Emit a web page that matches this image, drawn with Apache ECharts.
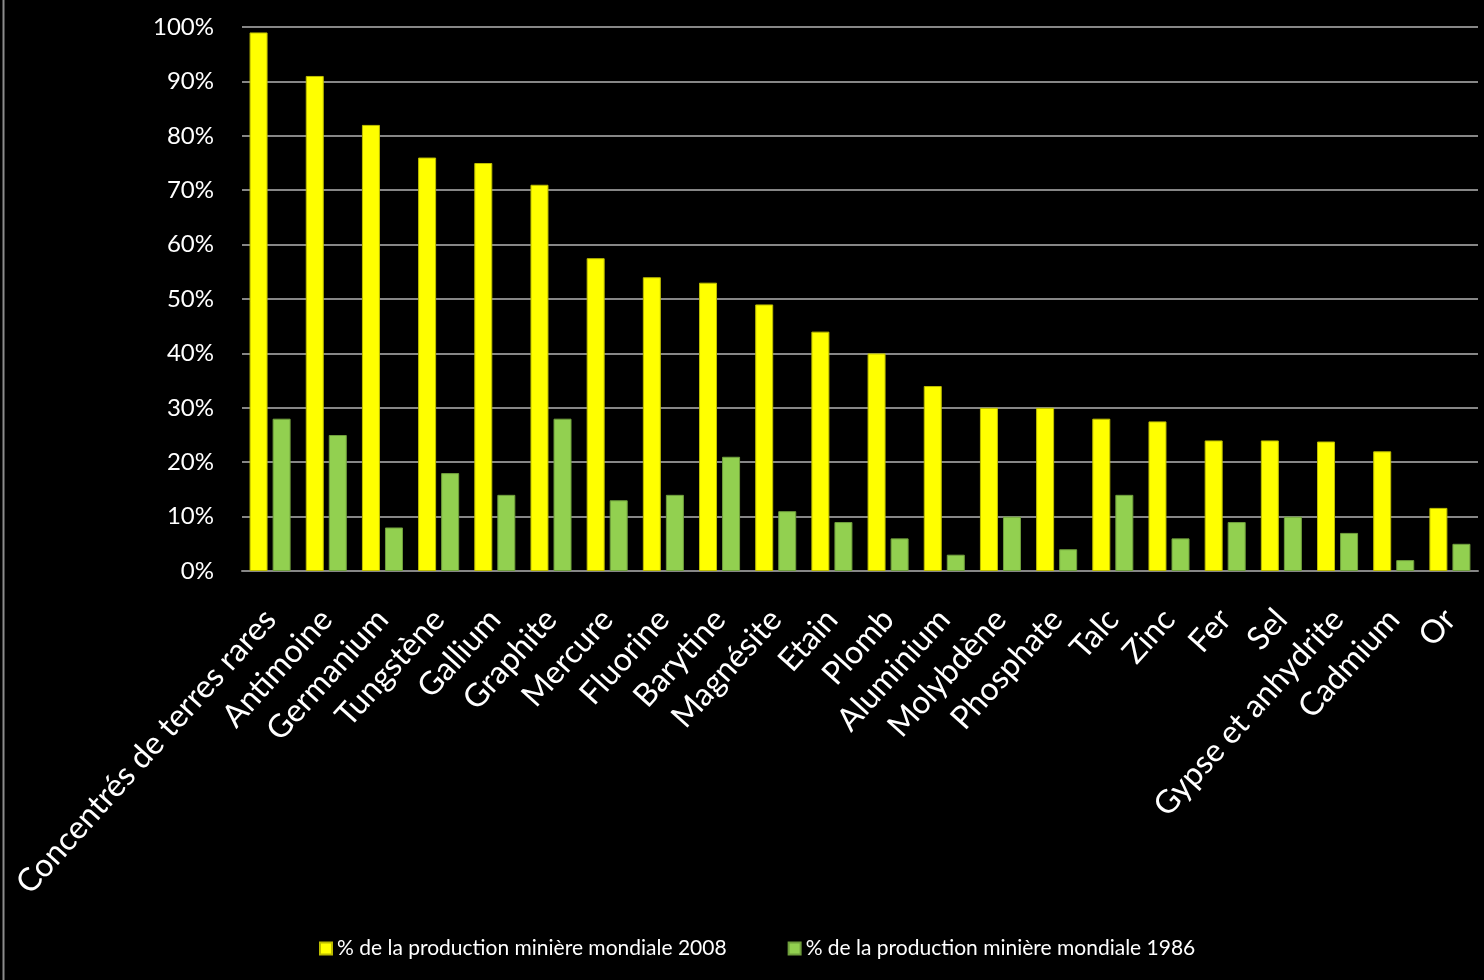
<!DOCTYPE html>
<html>
<head>
<meta charset="utf-8">
<script src="https://cdn.jsdelivr.net/npm/echarts@6/dist/echarts.min.js"></script>
<style>
html,body{margin:0;padding:0;background:#000;}
#chart{width:1484px;height:980px;}
</style>
</head>
<body>
<div id="chart"></div>
<script>
const categories = ["Concentrés de terres rares","Antimoine","Germanium","Tungstène","Gallium","Graphite","Mercure","Fluorine","Barytine","Magnésite","Etain","Plomb","Aluminium","Molybdène","Phosphate","Talc","Zinc","Fer","Sel","Gypse et anhydrite","Cadmium","Or"];
const prod2008 = [99,91,82,76,75,71,57.5,54,53,49,44,40,34,30,30,28,27.5,24,24,23.8,22,11.6];
const prod1986 = [28,25,8,18,14,28,13,14,21,11,9,6,3,10,4,14,6,9,10,7,2,5];
const seriesNames = ["% de la production minière mondiale 2008","% de la production minière mondiale 1986"];

const FONT = 'Lato';
const chart = echarts.init(document.getElementById('chart'));
chart.setOption({
  backgroundColor: '#000',
  animation: false,
  textStyle: {fontFamily: FONT},
  graphic: [{
    type: 'line', shape: {x1: 3.5, y1: 0, x2: 3.5, y2: 980},
    style: {stroke: '#8c8c8c', lineWidth: 2}
  }],
  grid: {left: 242, right: 6, top: 27, bottom: 409, containLabel: false, outerBoundsMode: 'none'},
  legend: {
    top: 933, left: 314,
    itemWidth: 12, itemHeight: 12, itemGap: 61,
    icon: 'rect',
    textStyle: {color: '#fff', fontSize: 21, fontFamily: FONT},
    data: seriesNames
  },
  xAxis: {
    type: 'category', data: categories,
    axisLine: {lineStyle: {color: '#868686', width: 2}},
    axisTick: {show: false},
    axisLabel: {interval: 0, rotate: 48, color: '#fff', fontSize: 32, margin: 43, fontFamily: FONT}
  },
  yAxis: {
    type: 'value', min: 0, max: 100, interval: 10,
    axisLabel: {formatter: '{value}%', color: '#fff', fontSize: 24, margin: 28, fontFamily: FONT},
    splitLine: {lineStyle: {color: '#868686', width: 2}},
    axisLine: {show: false}, axisTick: {show: false}
  },
  series: [
    {name: seriesNames[0], type: 'bar', data: prod2008, barWidth: 18, barGap: '28%',
     itemStyle: {color: '#ffff00', borderColor: '#bcbc00', borderWidth: 1}},
    {name: seriesNames[1], type: 'bar', data: prod1986, barWidth: 18,
     itemStyle: {color: '#92d050', borderColor: '#6f9e3c', borderWidth: 1}}
  ]
});
</script>
</body>
</html>
